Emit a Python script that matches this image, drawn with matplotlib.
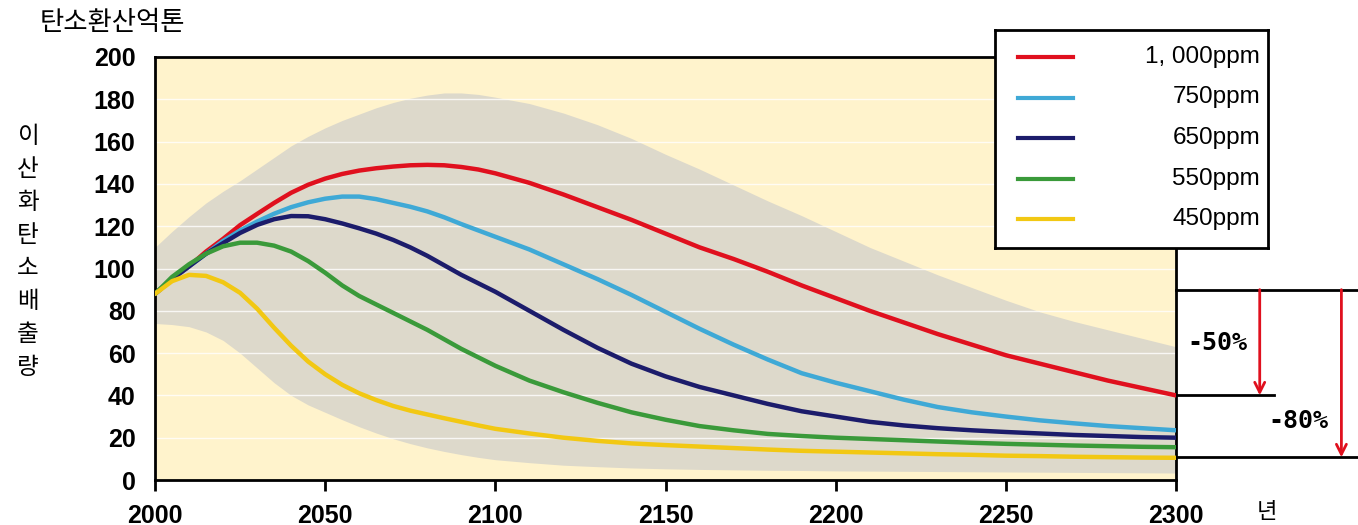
import numpy as np
import matplotlib
matplotlib.use("Agg")
import matplotlib.pyplot as plt
import matplotlib.transforms as mtransforms

plt.rcParams['font.family'] = ['Liberation Sans', 'Noto Sans CJK KR', 'DejaVu Sans']

years = list(range(2000, 2101, 5)) + list(range(2110, 2301, 10))

ppm_1000 = [88, 95, 101, 108, 114, 120.5, 125.8, 131, 135.8, 139.6, 142.5, 144.7, 146.3,
            147.4, 148.2, 148.8, 149, 148.8, 148, 146.8, 145,
            140.5, 135, 129, 123, 116.5, 110, 104.5, 98.5, 92, 86,
            80, 74.5, 69, 64, 59, 55, 51, 47, 43.5, 40]
ppm_750 = [88, 95, 101, 107, 113, 118, 122.2, 125.9, 129, 131.3, 133, 134, 134,
           132.8, 131, 129.2, 127, 124.2, 121, 118, 115,
           109, 102, 95, 87.5, 79.5, 71.5, 64, 57, 50.5, 46,
           42, 38, 34.5, 32, 30, 28.2, 26.8, 25.5, 24.5, 23.5]
ppm_650 = [88, 95, 101, 107, 112, 116.8, 120.6, 123.3, 124.8, 124.7, 123.3, 121.3, 119,
           116.5, 113.5, 110, 106, 101.5, 97, 93, 89,
           80, 71, 62.5, 55, 49, 44, 40, 36, 32.5, 30,
           27.5, 25.8, 24.5, 23.5, 22.7, 22, 21.3, 20.8, 20.3, 20]
ppm_550 = [88, 96, 102, 107, 110.5, 112.2, 112.2, 110.8, 108, 103.5, 98, 92, 87,
           83, 79, 75, 71, 66.5, 62, 58, 54,
           47, 41.5, 36.5, 32, 28.5, 25.5, 23.5, 21.8, 20.8, 20,
           19.4, 18.8, 18.2, 17.6, 17.1, 16.7, 16.3, 16, 15.7, 15.5]
ppm_450 = [88, 94, 97, 96.5, 93.5, 88.5, 81, 72, 63.5, 56, 50, 45, 41,
           37.8, 35, 32.8, 31, 29.2, 27.5, 25.8, 24.2,
           22, 20, 18.5, 17.3, 16.5, 15.8, 15.1, 14.4, 13.8, 13.4,
           13, 12.6, 12.2, 11.9, 11.5, 11.3, 11, 10.8, 10.6, 10.5]

band_upper = [110, 117.5, 124.5, 131, 136.5, 141.5, 147, 152.5, 158, 162.5, 166.5,
              170, 173, 176, 178.5, 180.5, 182, 183, 183, 182.3, 181,
              178, 173.5, 168, 161.5, 154, 147, 139.5, 132, 125, 117.5,
              110, 103.5, 97, 91, 85, 79.5, 75, 71, 67, 63]
band_lower = [74, 73.5, 72.5, 70, 66, 60, 53, 46, 40, 35.5, 32, 28.5, 25.2,
              22.2, 19.5, 17.2, 15.2, 13.5, 12, 10.7, 9.6,
              8.2, 7, 6.3, 5.7, 5.3, 5, 4.8, 4.6, 4.5, 4.3,
              4.2, 4.1, 4, 3.9, 3.8, 3.7, 3.6, 3.5, 3.4, 3.3]

labels = ['1, 000ppm', '750ppm', '650ppm', '550ppm', '450ppm']
colors = ['#e0101e', '#3fa9d6', '#1c1c6b', '#3a9a3a', '#f2c813']
series = [ppm_1000, ppm_750, ppm_650, ppm_550, ppm_450]

# reduction marks on the right: start level, -50% level, -80% level
ref_levels = [90, 40, 10.7]
ref_texts = ['-50%', '-80%']

fig = plt.figure(figsize=(13.58, 5.25), dpi=100)
ax = fig.add_axes([155 / 1358, 1 - 480 / 525, 1021 / 1358, 423 / 525])
ax.set_facecolor('#fff3cc')

ax.fill_between(years, band_lower, band_upper, color='#ddd9cb', lw=0, zorder=1)
for s, c in zip(series, colors):
    ax.plot(years, s, color=c, lw=3.2, solid_capstyle='round',
            solid_joinstyle='round', zorder=3)

ax.set_xlim(2000, 2300)
ax.set_ylim(0, 200)
ax.set_xticks(np.arange(2000, 2301, 50))
ax.set_yticks(np.arange(0, 201, 20))
for v in np.arange(20, 200, 20):
    ax.axhline(v, color='white', lw=1, alpha=0.8, zorder=1.5)

ax.tick_params(axis='x', direction='out', length=8, width=2, pad=9, labelsize=18)
ax.tick_params(axis='y', length=0, pad=14, labelsize=18)
for lab in ax.get_xticklabels() + ax.get_yticklabels():
    lab.set_fontweight('bold')
for sp in ax.spines.values():
    sp.set_linewidth(2)
    sp.set_color('black')

# right side reduction annotation
tr = mtransforms.blended_transform_factory(ax.transAxes, ax.transData)
ax.plot([1.0, 1.18], [ref_levels[0]] * 2, color='black', lw=2, transform=tr, clip_on=False)
ax.plot([1.0, 1.096], [ref_levels[1]] * 2, color='black', lw=2, transform=tr, clip_on=False)
ax.plot([1.0, 1.18], [ref_levels[2]] * 2, color='black', lw=2, transform=tr, clip_on=False)
for xa, lo, txt, xt, yt in [(1.082, ref_levels[1], ref_texts[0], 1.041, 65),
                            (1.162, ref_levels[2], ref_texts[1], 1.12, 28)]:
    ax.annotate('', xy=(xa, lo), xytext=(xa, ref_levels[0]), xycoords=tr,
                textcoords=tr, annotation_clip=False,
                arrowprops=dict(arrowstyle='->', color='#e0101e', lw=2,
                                mutation_scale=18, shrinkA=0, shrinkB=0))
    ax.text(xt, yt, txt, transform=tr, ha='center', va='center', fontsize=18,
            fontweight='bold', family=['DejaVu Sans Mono'])

# legend box drawn as its own small axes
lax = fig.add_axes([995 / 1358, 1 - 248 / 525, 273 / 1358, 218 / 525])
lax.set_xlim(0, 273)
lax.set_ylim(218, 0)
lax.set_xticks([])
lax.set_yticks([])
lax.set_facecolor('white')
for sp in lax.spines.values():
    sp.set_linewidth(2)
for i, (lab, c) in enumerate(zip(labels, colors)):
    yy = 27 + i * 40.5
    lax.plot([23, 78], [yy, yy], color=c, lw=3)
    lax.text(265, yy, lab, ha='right', va='center', fontsize=17.5)

fig.text(40 / 1358, 1 - 22 / 525, '탄소환산억톤', fontsize=19, va='center',
         family=['Noto Sans CJK KR'], fontweight='medium')
fig.text(28 / 1358, 1 - 252 / 525, '\n'.join('이산화탄소배출량'), fontsize=17,
         ha='center', va='center', linespacing=1.55, family=['Noto Sans CJK KR'],
         fontweight='medium')
fig.text(1267 / 1358, 1 - 512 / 525, '년', fontsize=16, ha='center', va='center',
         family=['Noto Sans CJK KR'], fontweight='medium')

fig.savefig('out.png', dpi=100, facecolor='white')
